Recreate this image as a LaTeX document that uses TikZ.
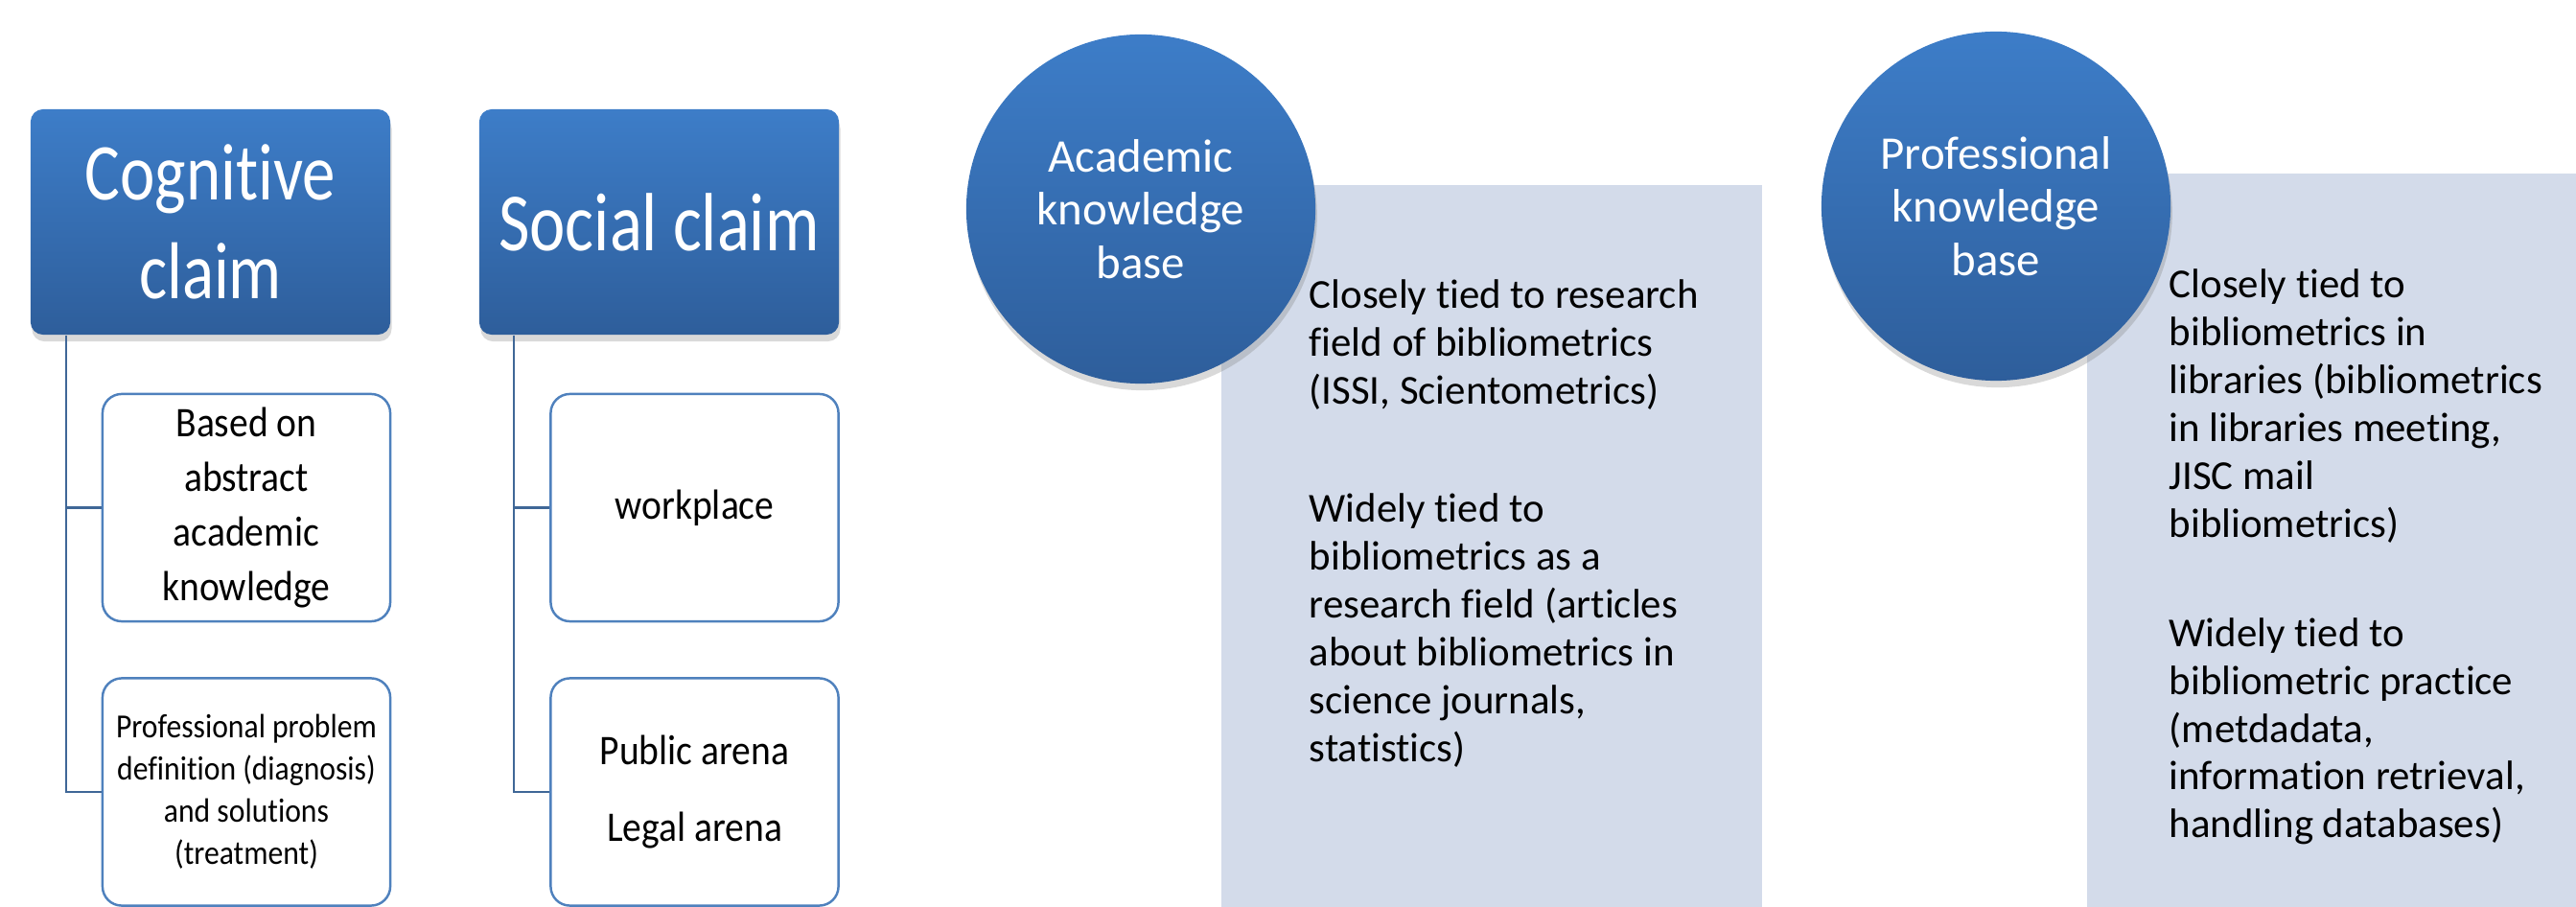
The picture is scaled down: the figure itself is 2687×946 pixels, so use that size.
\documentclass[tikz,border=0pt]{standalone}
\usepackage{fontspec}
\setmainfont[Ligatures=NoCommon]{Carlito}
\newfontfamily\headfont[FakeStretch=0.82,Ligatures=NoCommon]{Carlito}
\newfontfamily\childfont[FakeStretch=0.9,Ligatures=NoCommon]{Carlito}
\usetikzlibrary{shadows}
\definecolor{claimtop}{RGB}{61,125,200}
\definecolor{claimbot}{RGB}{46,94,155}
\definecolor{claimline}{RGB}{79,129,189}
\definecolor{panelfill}{RGB}{211,219,234}

\begin{document}
\begin{tikzpicture}[x=0.01cm,y=-0.01cm,
  claim/.style={rounded corners=3.7pt,top color=claimtop,bottom color=claimbot,text=white,
    minimum width=3.75cm,minimum height=2.35cm,inner sep=0pt,align=center,
    drop shadow={shadow xshift=0.4pt,shadow yshift=-2pt,opacity=0.3}},
  item/.style={draw=claimline,line width=0.7pt,fill=white,rounded corners=5.7pt,
    minimum width=3cm,minimum height=2.37cm,inner sep=0pt,align=center},
  link/.style={draw=claimline!80!black,line width=0.6pt},
  kbase/.style={circle,top color=claimtop,bottom color=claimbot,text=white,
    minimum size=3.64cm,inner sep=0pt,align=center,font=\fontsize{13.9}{15.8}\selectfont,
    drop shadow={shadow xshift=0.5pt,shadow yshift=-2pt,opacity=0.3}},
  panel/.style={fill=panelfill,anchor=north west,inner sep=0pt},
  note/.style={anchor=north west,inner sep=0pt,align=left,font=\fontsize{12.2}{14.2}\selectfont}]

\useasboundingbox (0,0) rectangle (2687,946);

% claims and what they rest on
\node[claim,font=\headfont\fontsize{23.9}{29.3}\selectfont] (cog) at (219.5,231.5) {Cognitive\\claim};
\node[claim,font=\headfont\fontsize{24.5}{29.3}\selectfont] (soc) at (687.5,231.5) {Social claim};

\node[item,font=\childfont\fontsize{12.5}{16.2}\selectfont] (cogA) at (257,529.5) {Based on\\abstract\\academic\\knowledge};
\node[item,font=\childfont\fontsize{10}{12.5}\selectfont] (cogB) at (257,826) {Professional problem\\definition (diagnosis)\\and solutions\\(treatment)};
\node[item,font=\childfont\fontsize{12.5}{16.2}\selectfont] (socA) at (724.5,529.5) {workplace};
\node[item,font=\childfont\fontsize{12.5}{22.8}\selectfont] (socB) at (724.5,826) {Public arena\\Legal arena};

\coordinate (cogtrunk) at ([xshift=0.38cm]cog.south west);
\coordinate (soctrunk) at ([xshift=0.37cm]soc.south west);
\draw[link] (cogtrunk) |- (cogB.west);
\draw[link] (cogtrunk |- cogA.west) -- (cogA.west);
\draw[link] (soctrunk) |- (socB.west);
\draw[link] (soctrunk |- socA.west) -- (socA.west);

% knowledge bases
\node[panel,minimum width=5.64cm,minimum height=7.54cm] (acadpanel) at (1273,192) {};
\node[panel,minimum width=5.11cm,minimum height=7.66cm] (profpanel) at (2176,180) {};
\node[kbase] (acad) at (1190,218) {Academic\\knowledge\\base};
\node[kbase] (prof) at (2082,215) {Professional\\knowledge\\base};

\node[note] (acadtext) at (1365,291) {Closely tied to research\\field of bibliometrics\\(ISSI, Scientometrics)\\[0.73cm]Widely tied to\\bibliometrics as a\\research field (articles\\about bibliometrics in\\science journals,\\statistics)};
\node[note] (proftext) at (2262,280) {Closely tied to\\bibliometrics in\\libraries (bibliometrics\\in libraries meeting,\\JISC mail\\bibliometrics)\\[0.64cm]Widely tied to\\bibliometric practice\\(metdadata,\\information retrieval,\\handling databases)};

\end{tikzpicture}
\end{document}
